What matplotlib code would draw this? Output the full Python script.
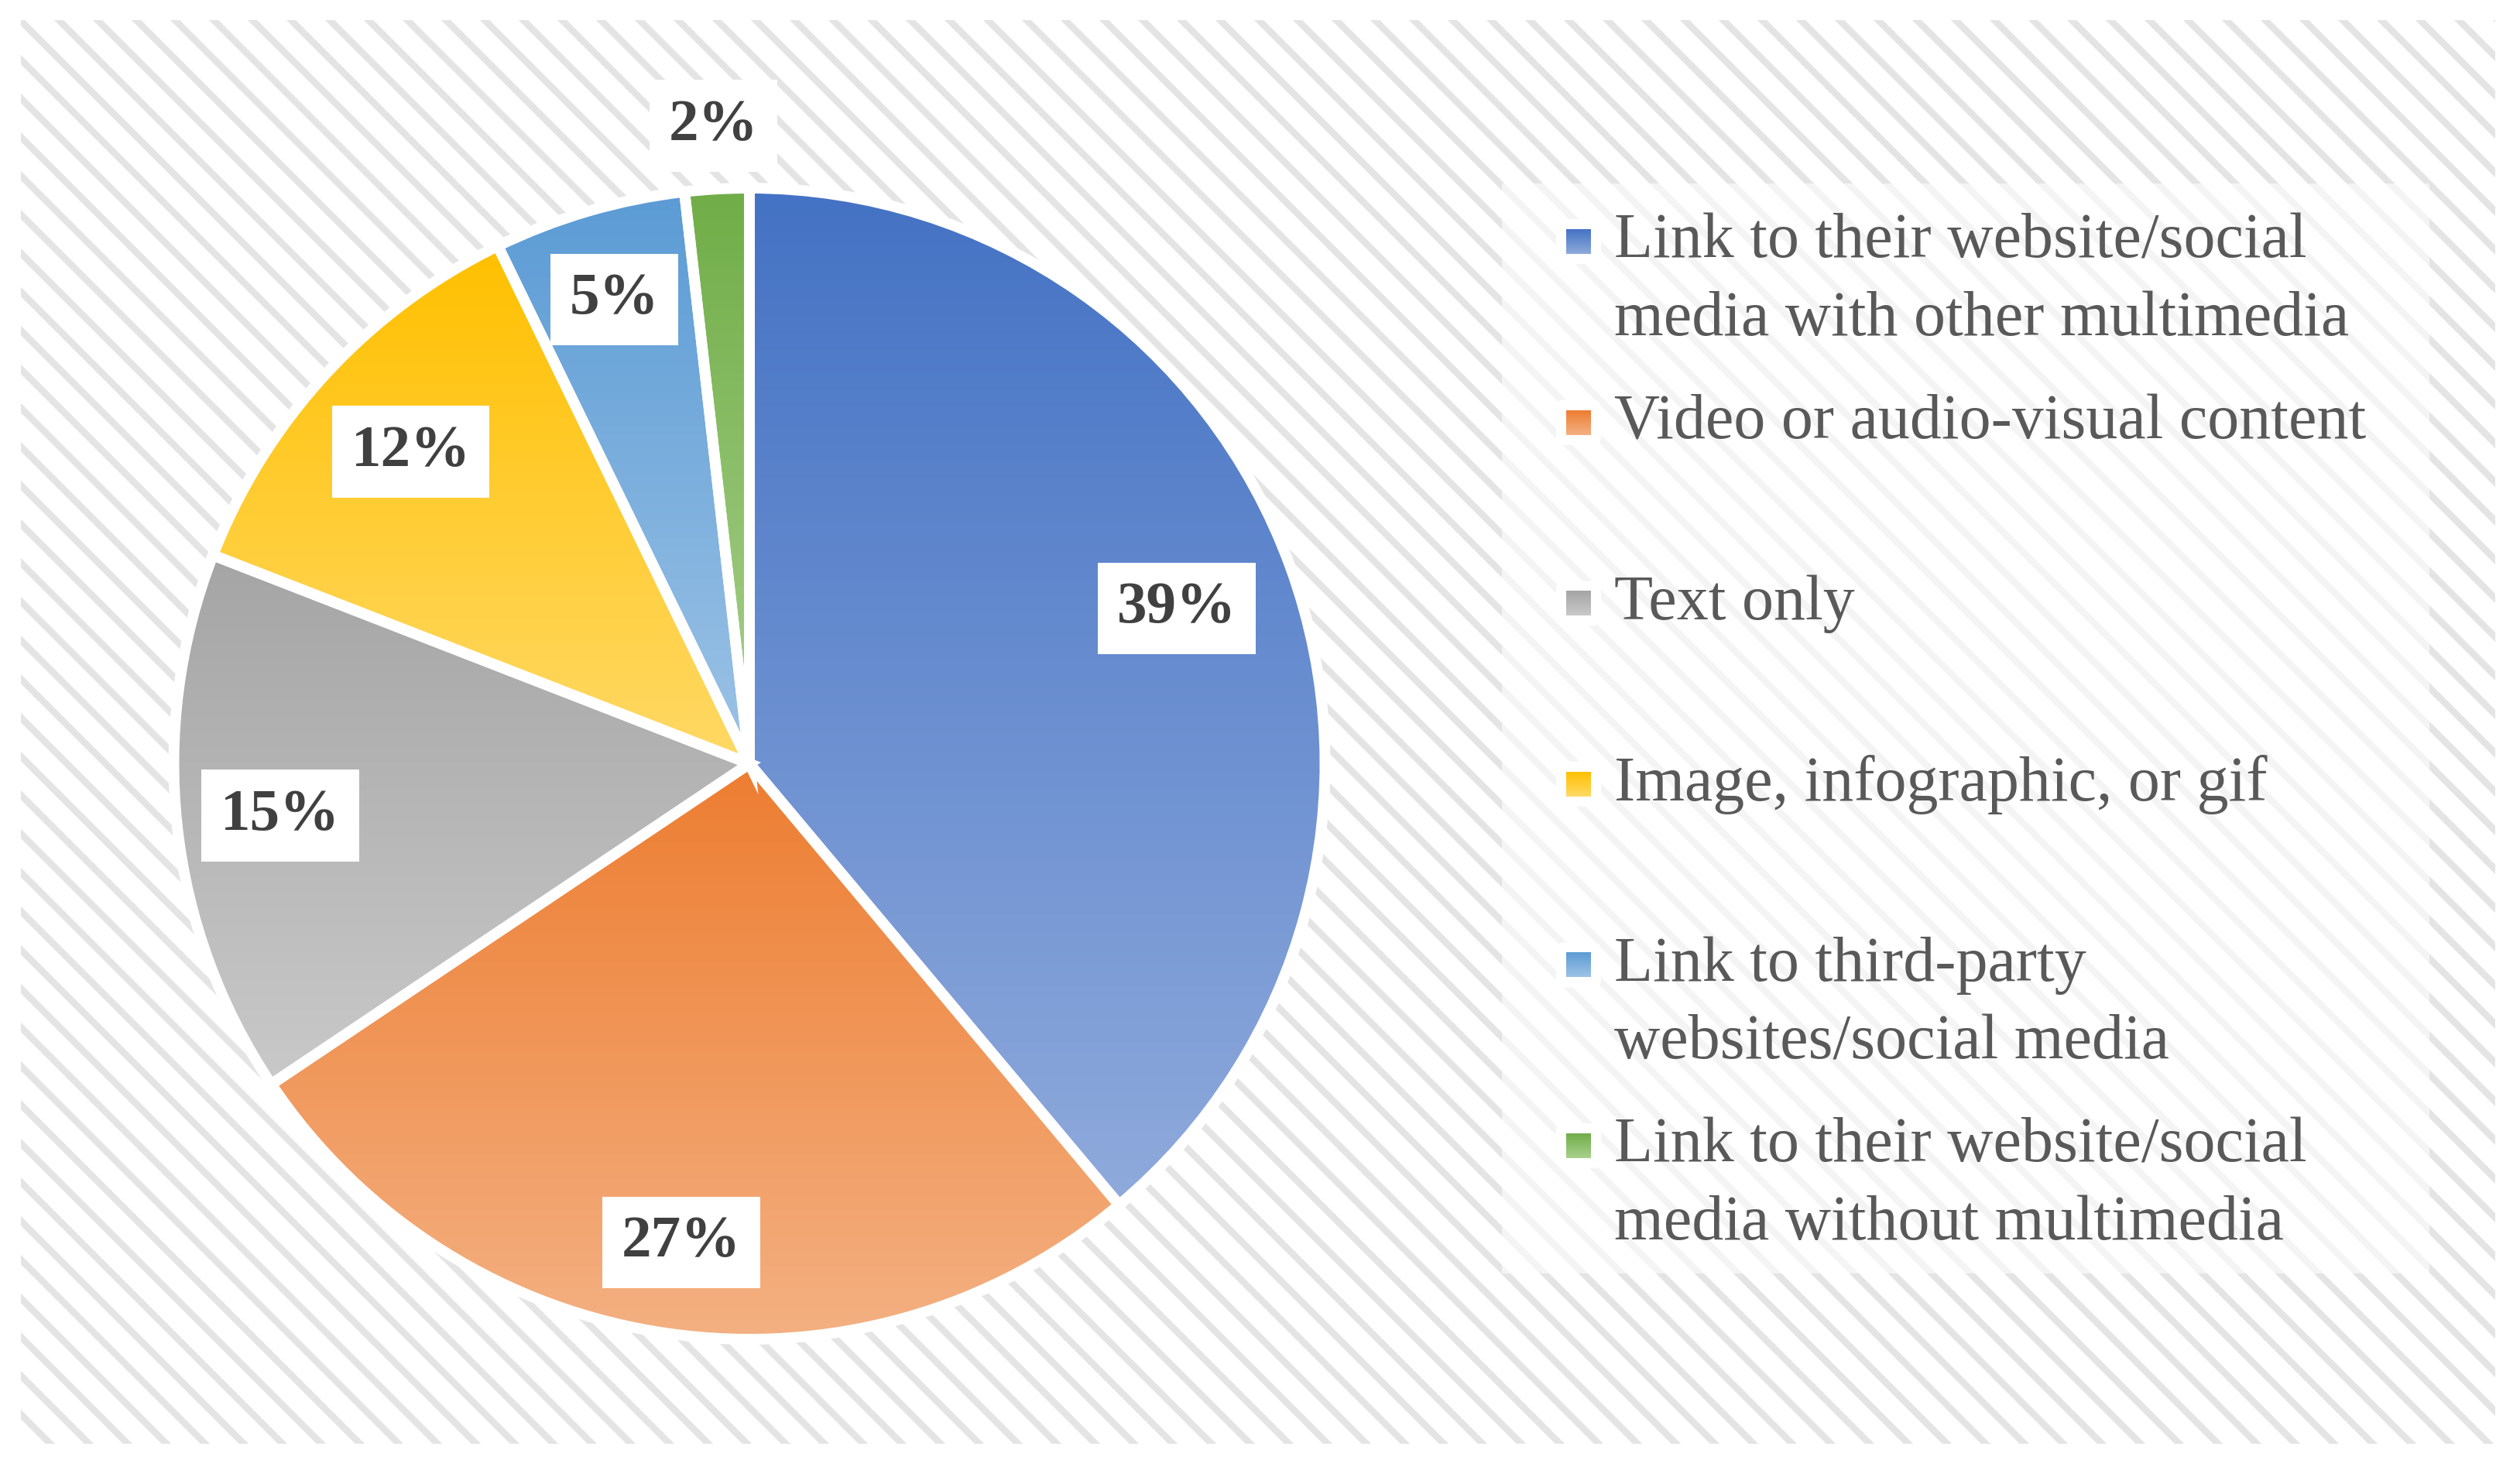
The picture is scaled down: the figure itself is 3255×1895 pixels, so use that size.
import numpy as np
import matplotlib.pyplot as plt
from matplotlib.colors import LinearSegmentedColormap
from matplotlib.patches import Rectangle, FancyBboxPatch

plt.rcParams['hatch.linewidth'] = 4.2
plt.rcParams['hatch.color'] = '#e4e4e4'
plt.rcParams['font.family'] = ['Liberation Serif', 'DejaVu Serif']

categories = ['Link to their website/social\nmedia with other multimedia',
              'Video or audio-visual content',
              'Text only',
              'Image, infographic, or gif',
              'Link to third-party\nwebsites/social media',
              'Link to their website/social\nmedia without multimedia']
shares = [38.9, 26.7, 15.3, 11.9, 5.4, 1.8]

top_colors = ['#4472c4', '#ed7d31', '#a5a5a5', '#ffc000', '#5b9bd5', '#70ad47']
bottom_colors = ['#8faadc', '#f4b183', '#c9c9c9', '#ffd966', '#9dc3e6', '#a9d18e']

# where each percentage box sits, as a fraction of the radius
label_dist = [0.79, 0.84, 0.82, 0.80, 0.84, 1.11]

W, H = 3255, 1895
DPI = 150
fig = plt.figure(figsize=(W / DPI, H / DPI), dpi=DPI)
ax = fig.add_axes([0, 0, 1, 1])

# striped chart area
bg = Rectangle((27, H - 1865), 3223 - 27, 1865 - 26, facecolor='white',
               edgecolor='#e4e4e4', hatch='\\', lw=0, zorder=0)
ax.add_patch(bg)

cx, cy, R = 968, H - 986.5, 743.5
wedges, _ = ax.pie(shares, startangle=90, counterclock=False, center=(cx, cy), radius=R,
                   wedgeprops=dict(facecolor='none', edgecolor='white', linewidth=6.7, zorder=3))

grad = np.linspace(0, 1, 256).reshape(-1, 1)
for w, c0, c1 in zip(wedges, top_colors, bottom_colors):
    v = w.get_path().vertices
    x0, y0 = v.min(axis=0)
    x1, y1 = v.max(axis=0)
    cmap = LinearSegmentedColormap.from_list('g', [c1, c0])
    im = ax.imshow(grad, cmap=cmap, extent=(x0, x1, y0, y1), origin='lower',
                   aspect='auto', zorder=2)
    im.set_clip_path(w)

for w, v, d in zip(wedges, shares, label_dist):
    ang = np.deg2rad((w.theta1 + w.theta2) / 2)
    ax.text(cx + d * R * np.cos(ang), cy + d * R * np.sin(ang), f'{v:.0f}%',
            ha='center', va='center', fontsize=37, fontweight='bold', color='#404040',
            bbox=dict(boxstyle='square,pad=0.32', fc='white', ec='none'), zorder=5)

# legend
ax.add_patch(Rectangle((1940, H - 1645), 3138 - 1940, 1645 - 237, facecolor='white',
                       alpha=0.6, lw=0, zorder=1))
for i, (name, c0, c1) in enumerate(zip(categories, top_colors, bottom_colors)):
    base = 333 + i * 233.6
    for k, line in enumerate(name.split('\n')):
        ax.text(2085, H - (base + k * 100), line, ha='left', va='baseline',
                fontsize=39.3, color='#595959', zorder=5)
    ax.add_patch(FancyBboxPatch((2010, H - (base + 8)), 58, 58,
                                boxstyle='round,pad=0,rounding_size=10',
                                fc='white', ec='none', zorder=4))
    cmap = LinearSegmentedColormap.from_list('g', [c1, c0])
    ax.imshow(grad, cmap=cmap, extent=(2023, 2055, H - (base - 5), H - (base - 37)),
              origin='lower', aspect='auto', zorder=5)

ax.set_xlim(0, W)
ax.set_ylim(0, H)
ax.set_axis_off()

fig.savefig('out.png', dpi=DPI)
